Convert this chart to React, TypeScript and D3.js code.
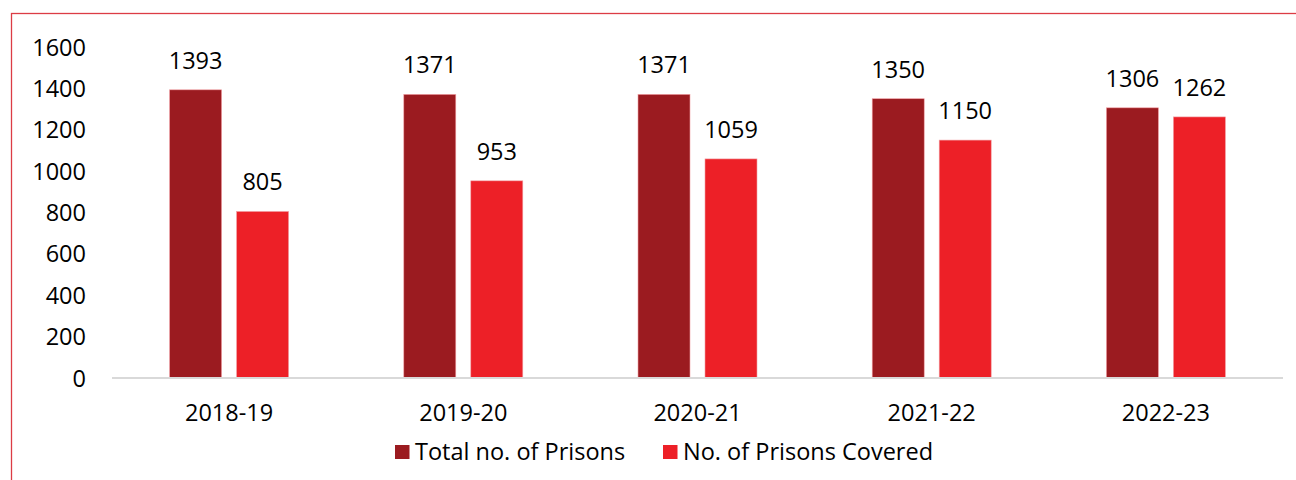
import React from "react";
import * as d3 from "d3";

const categories = ["2018-19", "2019-20", "2020-21", "2021-22", "2022-23"];
const totalPrisons = [1393, 1371, 1371, 1350, 1306];
const prisonsCovered = [805, 953, 1059, 1150, 1262];
const seriesNames = ["Total no. of Prisons", "No. of Prisons Covered"];
const seriesColors = ["#9B1B20", "#ED2027"];
const yTicks = [0, 200, 400, 600, 800, 1000, 1200, 1400, 1600];

const W = 1296;
const H = 480;
const FONT = "'Open Sans', 'Liberation Sans', sans-serif";
const FS = 23.5;

export default function App() {
  const plotLeft = 112;
  const plotRight = 1283;
  const x0 = d3.scaleBand<string>().domain(categories).range([plotLeft, plotRight]).paddingInner(0).paddingOuter(0);
  const y = d3.scaleLinear().domain([0, 1600]).range([378, 47]);
  const barW = 52;
  const gap = 15;
  const series = [totalPrisons, prisonsCovered];
  const legendX = [395, 663];

  return (
    <svg width={W} height={H} style={{ position: "absolute", left: 0, top: 0, background: "#fff" }} fontFamily={FONT}>
      <rect x={11.5} y={13.5} width={W} height={H} fill="none" stroke="#DC3C45" strokeWidth={1.3} />
      {yTicks.map((t) => (
        <text key={t} x={86} y={y(t) + 8.5} textAnchor="end" fontSize={FS} fill="#000">
          {t}
        </text>
      ))}
      {categories.map((c, i) => {
        const cx = (x0(c) as number) + x0.bandwidth() / 2;
        return (
          <g key={c}>
            {series.map((s, k) => {
              const bx = k === 0 ? cx - gap / 2 - barW : cx + gap / 2;
              const v = s[i];
              return (
                <g key={k}>
                  <rect
                    x={bx}
                    y={y(v)}
                    width={barW}
                    height={y(0) - y(v)}
                    fill={seriesColors[k]}
                    stroke="#F2A0A4"
                    strokeWidth={0.6}
                  />
                  <text x={bx + barW / 2} y={y(v) - 21} textAnchor="middle" fontSize={FS} fill="#000">
                    {v}
                  </text>
                </g>
              );
            })}
            <text x={cx} y={421} textAnchor="middle" fontSize={FS} fill="#000">
              {c}
            </text>
          </g>
        );
      })}
      <line x1={plotLeft} x2={plotRight} y1={378} y2={378} stroke="#D9D9D9" strokeWidth={2} />
      {seriesNames.map((n, k) => {
        const lx = legendX[k];
        return (
          <g key={n}>
            <rect x={lx} y={445} width={14.5} height={14} fill={seriesColors[k]} />
            <text x={lx + 20} y={460} fontSize={FS} fill="#000">
              {n}
            </text>
          </g>
        );
      })}
    </svg>
  );
}
